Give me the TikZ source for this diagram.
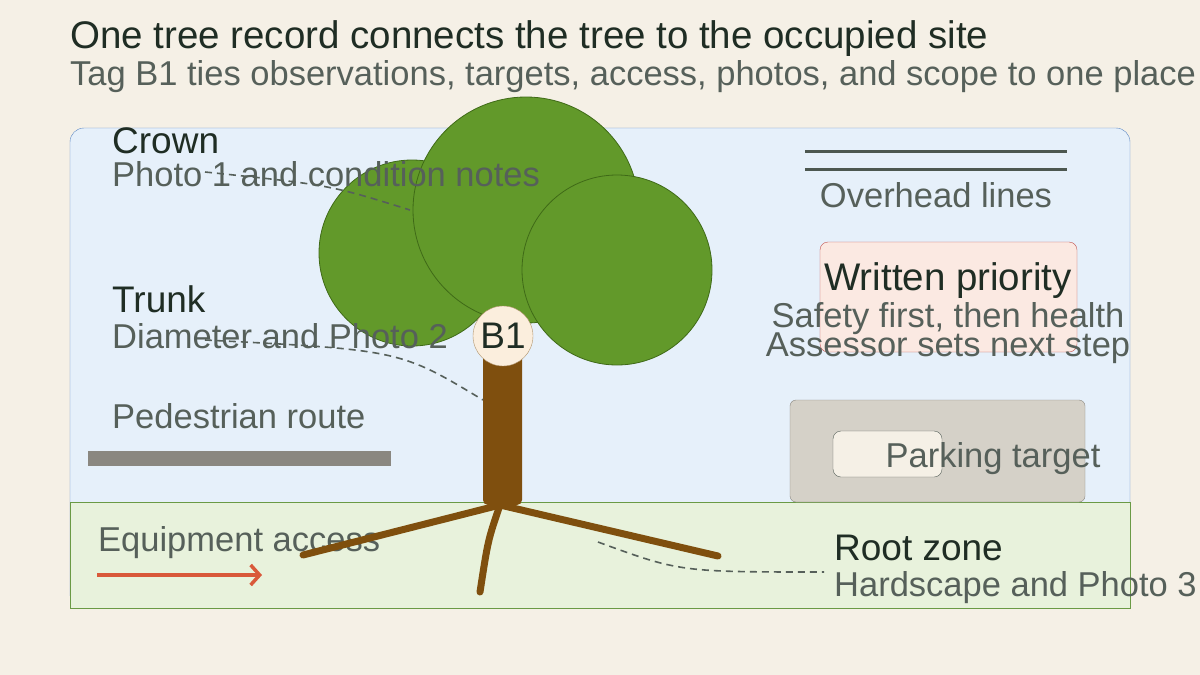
\documentclass[tikz,border=0pt]{standalone}
\usepackage{fontspec}
\setmainfont{Liberation Sans}
\usepackage{tikz}
\usetikzlibrary{positioning,arrows.meta}
\definecolor{paper}{HTML}{F5F0E6}
\definecolor{ink}{HTML}{1F2D24}
\definecolor{soft}{HTML}{56605A}
\definecolor{sky}{HTML}{E6F0FA}
\definecolor{skyline}{HTML}{5B86C4}
\definecolor{grass}{HTML}{E8F2DC}
\definecolor{grassline}{HTML}{6A9A45}
\definecolor{leaf}{HTML}{62992A}
\definecolor{leafline}{HTML}{3F6A17}
\definecolor{bark}{HTML}{7F4F0E}
\definecolor{tag}{HTML}{FBEEDD}
\definecolor{note}{HTML}{FBE9E2}
\definecolor{noteline}{HTML}{C0504D}
\definecolor{lot}{HTML}{D5D1C8}
\definecolor{route}{HTML}{8A8780}
\definecolor{access}{HTML}{D9593A}
\tikzset{
  big/.style={font=\fontsize{37}{40}\selectfont, text=ink, anchor=base west, inner sep=0},
  small/.style={font=\fontsize{34.5}{38}\selectfont, text=soft, anchor=base west, inner sep=0},
  leader/.style={soft, line width=1.6pt, dash pattern=on 7pt off 5pt},
  crown/.style={circle, fill=leaf, draw=leafline, line width=0.8pt},
  root/.style={bark, line width=7pt, line cap=round}
}
\begin{document}
\begin{tikzpicture}[x=1pt,y=-1pt]
    \useasboundingbox[fill=paper] (0,0) rectangle (1200,675);
    % title
    \node[big, font=\fontsize{38.5}{42}\selectfont] (title) at (70,48) {One tree record connects the tree to the occupied site};
    \node[small] (subtitle) at (70,85) {Tag B1 ties observations, targets, access, photos, and scope to one place};
    % site panel
    \draw[fill=sky, draw=skyline, rounded corners=14pt] (70,128) rectangle (1130,608);
    \draw[fill=grass, draw=grassline] (70,502) rectangle (1130,608);
    % overhead lines
    \draw[ink!80, line width=3pt] (805,151) -- (1067,151);
    \draw[ink!80, line width=3pt] (805,169) -- (1067,169);
    \node[small, anchor=base] (lines) at (936,207) {Overhead lines};
    % written priority
    \draw[fill=note, draw=noteline, rounded corners=8pt] (820,242) rectangle (1077,352);
    \node[big, font=\fontsize{38.5}{42}\selectfont, anchor=base] (priority) at (948,290) {Written priority};
    \node[small, anchor=base] (safety) at (948,327) {Safety first, then health};
    \node[small, anchor=base] (assessor) at (948,356) {Assessor sets next step};
    % parking
    \draw[fill=lot, draw=route, rounded corners=6pt] (790,400) rectangle (1085,502);
    \draw[fill=paper, draw=soft, rounded corners=8pt] (833,431) rectangle (942,477);
    \node[small, anchor=base] (parking) at (993,467) {Parking target};
    % pedestrian route
    \node[small] (pedestrian) at (112,428) {Pedestrian route};
    \fill[route] (88,451) rectangle (391,466);
    % equipment access
    \node[small] (equipment) at (98,551) {Equipment access};
    \coordinate (a1) at (97,575);
    \coordinate (a2) at (262,575);
    \draw[access, line width=3.5pt, -{Straight Barb[length=9pt,width=20pt]}] (a1) -- (a2);
    % roots
    \coordinate (base) at (500,505);
    \coordinate (r1) at (303,555);
    \coordinate (r2) at (718,556);
    \coordinate (r3) at (480,592);
    \draw[root] (base) -- (r1);
    \draw[root] (base) -- (r2);
    \draw[root] (base) .. controls (488,540) .. (r3);
    % tree
    \node[crown, minimum size=186pt] (c1) at (412,253) {};
    \node[crown, minimum size=226pt] (c2) at (526,210) {};
    \node[crown, minimum size=190pt] (c3) at (617,270) {};
    \fill[bark, rounded corners=5pt] (483,345) rectangle (522,505);
    \node[circle, fill=tag, draw=bark!60, minimum size=60pt, inner sep=0,
          font=\fontsize{37}{40}\selectfont, text=ink] (b1) at (503,336) {B1};
    % labels
    \node[big] (crownlbl) at (112,153) {Crown};
    \node[small] (photo1) at (112,186) {Photo 1 and condition notes};
    \coordinate (cl) at (410,210);
    \draw[leader] (205,172) .. controls (330,185) .. (cl);
    \node[big] (trunklbl) at (112,312) {Trunk};
    \node[small] (photo2) at (112,348) {Diameter and Photo 2};
    \coordinate (tl) at (483,400);
    \draw[leader] (205,340) .. controls (400,350) .. (tl);
    \node[big] (rootlbl) at (834,560) {Root zone};
    \node[small] (photo3) at (834,596) {Hardscape and Photo 3};
    \coordinate (rl) at (598,542);
    \draw[leader] (rl) .. controls (680,572) .. (824,572);
\end{tikzpicture}
\end{document}
